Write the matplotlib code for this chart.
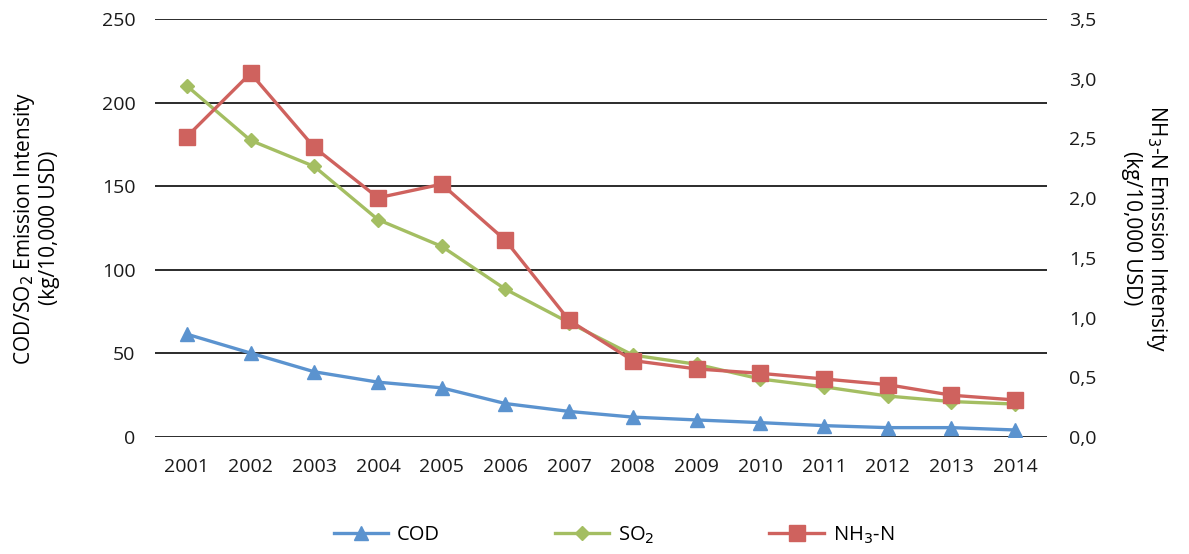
import matplotlib.pyplot as plt
from matplotlib.ticker import FuncFormatter

years = [str(y) for y in range(2001, 2015)]
cod = [61.5, 50.2, 39.0, 32.8, 29.4, 20.0, 15.3, 11.9, 10.2, 8.6, 6.8, 5.6, 5.6, 4.2]
so2 = [210.0, 177.4, 161.8, 130.0, 114.0, 88.4, 68.4, 49.0, 43.5, 34.7, 30.0, 24.5, 21.2, 19.7]
nh3n = [2.515, 3.046, 2.425, 2.003, 2.117, 1.647, 0.977, 0.640, 0.570, 0.533, 0.486, 0.438, 0.350, 0.310]

left_ticks = [0, 50, 100, 150, 200, 250]
right_ticks = [0, 0.5, 1.0, 1.5, 2.0, 2.5, 3.0, 3.5]

BLUE = "#5B93CF"
GREEN = "#A4BE62"
RED = "#CF625E"

plt.rcParams["font.family"] = ["Open Sans", "DejaVu Sans"]

fig = plt.figure(figsize=(11.89, 5.54), dpi=100)
ax = fig.add_axes([155 / 1189, 1 - 437 / 554, 892 / 1189, 418 / 554])
ax2 = ax.twinx()

x = list(range(len(years)))
l1, = ax.plot(x, cod, color=BLUE, lw=2.4, marker="^", ms=10.5, label="COD", zorder=3)
l2, = ax.plot(x, so2, color=GREEN, lw=2.4, marker="D", ms=7.5, label="SO$_2$", zorder=3)
l3, = ax2.plot(x, nh3n, color=RED, lw=2.4, marker="s", ms=11, label="NH$_3$-N", zorder=3)

ax.set_xlim(-0.5, len(years) - 0.5)
ax.set_ylim(0, 250)
ax2.set_ylim(0, 3.5)
ax.set_yticks(left_ticks)
ax2.set_yticks(right_ticks)
ax2.yaxis.set_major_formatter(FuncFormatter(lambda v, p: f"{v:.1f}".replace(".", ",")))
ax.set_xticks(x)
ax.set_xticklabels(years)

ax.yaxis.grid(True, color="#1a1a1a", lw=1.3)
ax.set_axisbelow(True)
for a in (ax, ax2):
    for s in a.spines.values():
        s.set_visible(False)
ax.tick_params(axis="both", length=0, labelsize=14, colors="#1a1a1a")
ax.tick_params(axis="x", pad=15)
ax.tick_params(axis="y", pad=14)
ax2.tick_params(axis="y", length=0, labelsize=14, colors="#1a1a1a", pad=16)

ax.set_ylabel("COD/SO$_2$ Emission Intensity\n(kg/10,000 USD)", fontsize=15,
              labelpad=30, linespacing=1.15)
ax2.set_ylabel("NH$_3$-N Emission Intensity\n(kg/10,000 USD)", fontsize=15,
               rotation=-90, labelpad=52, linespacing=1.15)

fig.legend(handles=[l1, l2, l3], loc="center", bbox_to_anchor=(614 / 1189, 1 - 535 / 554),
           ncol=3, frameon=False, fontsize=14.5, handlelength=2.7, columnspacing=5.7,
           handletextpad=0.45)

fig.savefig("out.png", dpi=100)
